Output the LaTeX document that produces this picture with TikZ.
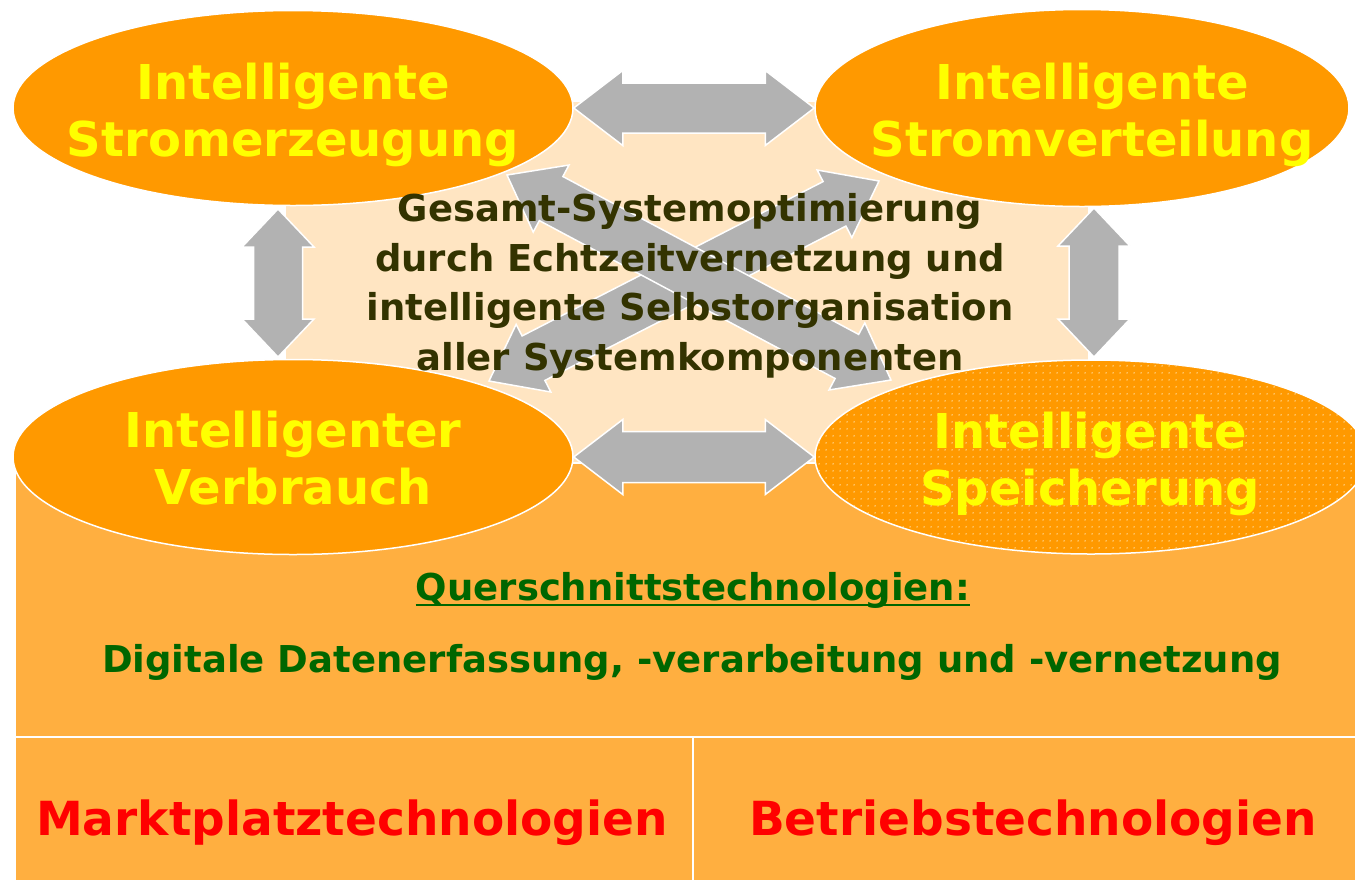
\documentclass[tikz,border=0pt]{standalone}
\usepackage{fontspec}
\setmainfont{DejaVu Sans}
\usetikzlibrary{shapes.geometric,calc,patterns.meta}
\definecolor{ellorange}{HTML}{FF9900}
\definecolor{boxorange}{HTML}{FFAF40}
\definecolor{peach}{HTML}{FFE5C2}
\definecolor{arrgray}{HTML}{B2B2B2}
\definecolor{txtyellow}{HTML}{FFFF00}
\definecolor{txtolive}{HTML}{333300}
\definecolor{txtgreen}{HTML}{006600}
\definecolor{txtred}{HTML}{FF0000}
\definecolor{dotcol}{HTML}{FFECC4}
% double block arrow: #1 tip A, #2 tip B, #3 head length, #4 head half width, #5 shaft half width
\newcommand{\dblarr}[5]{%
  \path ($(#1)!#3!(#2)$) coordinate (ha) ($(#2)!#3!(#1)$) coordinate (hb);
  \draw[blockarrow] (#1) -- ($(ha)!#4!90:(#2)$) -- ($(ha)!#5!90:(#2)$)
    -- ($(hb)!#5!-90:(#1)$) -- ($(hb)!#4!-90:(#1)$) -- (#2)
    -- ($(hb)!#4!90:(#1)$) -- ($(hb)!#5!90:(#1)$)
    -- ($(ha)!#5!-90:(#2)$) -- ($(ha)!#4!-90:(#2)$) -- cycle;}
\begin{document}
\begin{tikzpicture}[x=1pt,y=-1pt,
  ell/.style={ellipse,fill=ellorange,draw=white,line width=1.5pt,inner sep=0pt},
  elltext/.style={inner sep=0pt,align=center,text=txtyellow,font=\bfseries\fontsize{48}{57}\selectfont},
  midtext/.style={inner sep=0pt,align=center,text=txtolive,font=\bfseries\fontsize{37}{49.5}\selectfont},
  greentext/.style={inner sep=0pt,text=txtgreen,font=\bfseries\fontsize{37}{44}\selectfont},
  redtext/.style={inner sep=0pt,text=txtred,font=\bfseries\fontsize{47}{56}\selectfont},
  blockarrow/.style={fill=arrgray,draw=white,line width=1.5pt,line join=miter},
  boxpart/.style={fill=boxorange,draw=white,line width=1.5pt}]
\useasboundingbox (0,0) rectangle (1355,879);
\begin{scope}
\clip (0,0) rectangle (1355,879);
% background
\path[fill=peach] (286,102) rectangle (1088,470);
% bottom box
\draw[boxpart] (15,463) rectangle (1365,737);
\draw[boxpart] (15,737) rectangle (693,890);
\draw[boxpart] (693,737) rectangle (1365,890);
% ellipses
\node[ell,minimum width=560pt,minimum height=195pt] (gen) at (293,108) {};
\node[ell,minimum width=534pt,minimum height=197pt] (dist) at (1082,108) {};
\node[ell,minimum width=560pt,minimum height=195pt] (cons) at (293,457) {};
\node[ell,minimum width=552pt,minimum height=194pt,
  postaction={pattern={Dots[radius=0.8pt,distance=6.5pt]},pattern color=dotcol}] (stor) at (1091,457) {};
% arrow end points
\coordinate (lvT) at (278,209);
\coordinate (lvB) at (278,357);
\coordinate (rvT) at (1094,208);
\coordinate (rvB) at (1094,357);
\coordinate (xaA) at (507,175);
\coordinate (xaB) at (891,380);
\coordinate (xbA) at (489,381);
\coordinate (xbB) at (879,181);
% arrows
\dblarr{gen.east}{dist.west}{49pt}{37.5pt}{25pt}
\dblarr{cons.east}{stor.west}{49pt}{37.5pt}{25.5pt}
\dblarr{lvT}{lvB}{38pt}{36pt}{24.5pt}
\dblarr{rvT}{rvB}{38pt}{36pt}{25pt}
\dblarr{xbA}{xbB}{50pt}{38pt}{25pt}
\dblarr{xaA}{xaB}{50pt}{38pt}{25pt}
% ellipse texts
\node[elltext] (genT) at (293,115) {Intelligente\\Stromerzeugung};
\node[elltext] (distT) at (1092,115) {Intelligente\\Stromverteilung};
\node[elltext] (consT) at (293,458) {Intelligenter\\Verbrauch};
\node[elltext] (storT) at (1090,464) {Intelligente\\Speicherung};
% centre text
\node[midtext] (midT) at (690,286) {Gesamt-Systemoptimierung\\durch Echtzeitvernetzung und\\intelligente Selbstorganisation\\aller Systemkomponenten};
% box texts
\node[greentext,anchor=base] (qT) at (693,600) {Querschnittstechnologien:};
\draw[txtgreen,line width=2.5pt] ([yshift=-5pt]qT.base west) -- ([yshift=-5pt]qT.base east);
\node[greentext,anchor=base] (dT) at (692,672) {Digitale Datenerfassung, -verarbeitung und -vernetzung};
\node[redtext,anchor=base] (mT) at (352,835) {Marktplatztechnologien};
\node[redtext,anchor=base] (bT) at (1033,835) {Betriebstechnologien};
\end{scope}
\end{tikzpicture}
\end{document}
